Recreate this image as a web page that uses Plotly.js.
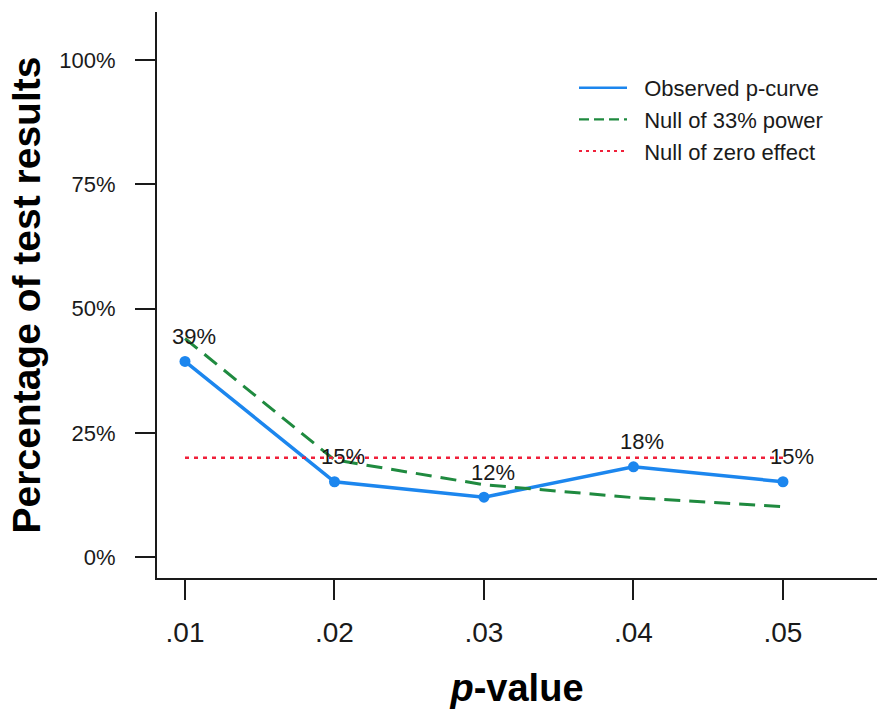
<!DOCTYPE html>
<html>
<head>
<meta charset="utf-8">
<script src="https://cdn.plot.ly/plotly-3.0.1.min.js"></script>
<style>html,body{margin:0;padding:0;background:#fff;}#chart{width:877px;height:715px;}</style>
</head>
<body>
<div id="chart"></div>
<script>
// ---- data ----
const pValues = [0.01, 0.02, 0.03, 0.04, 0.05];
const pTickLabels = ['.01', '.02', '.03', '.04', '.05'];
const observed = [39.4, 15.2, 12.1, 18.2, 15.2];
const observedLabels = ['39%', '15%', '12%', '18%', '15%'];
const nullPower33 = [44.0, 19.6, 14.6, 12.0, 10.2];
const nullZero = [20, 20, 20, 20, 20];
const yTicks = [0, 25, 50, 75, 100];
const yTickLabels = ['0%', '25%', '50%', '75%', '100%'];
const seriesNames = ['Observed p-curve', 'Null of 33% power', 'Null of zero effect'];

const FONT = 'Liberation Sans, Arial, Helvetica, sans-serif';
const INK = '#1a1a1a';
const BLUE = '#1c86ee', GREEN = '#1f8a3f', RED = '#f0203a';
const PAD = '\u00a0\u00a0';

const traces = [
  {
    x: pValues, y: observed, name: seriesNames[0], type: 'scatter', mode: 'lines+markers',
    line: {color: BLUE, width: 3.5}, marker: {color: BLUE, size: 11},
    showlegend: false, cliponaxis: false
  },
  {
    x: pValues, y: nullPower33, name: seriesNames[1], type: 'scatter', mode: 'lines',
    line: {color: GREEN, width: 3, dash: '16px,9px'},
    showlegend: false, cliponaxis: false
  },
  {
    x: pValues, y: nullZero, name: seriesNames[2], type: 'scatter', mode: 'lines',
    line: {color: RED, width: 2.5, dash: '4px,5px'},
    showlegend: false, cliponaxis: false
  },
  // legend keys (thin lines as in the reference legend)
  {x: [null], y: [null], name: PAD + seriesNames[0], type: 'scatter', mode: 'lines',
   line: {color: BLUE, width: 2.5}},
  {x: [null], y: [null], name: PAD + seriesNames[1], type: 'scatter', mode: 'lines',
   line: {color: GREEN, width: 2.2, dash: '10px,5px'}},
  {x: [null], y: [null], name: PAD + seriesNames[2], type: 'scatter', mode: 'lines',
   line: {color: RED, width: 2, dash: '3px,4px'}}
];

const annotations = pValues.map((p, i) => ({
  x: p, y: observed[i], xref: 'x', yref: 'y', text: observedLabels[i],
  showarrow: false, xshift: 9, yshift: 25,
  font: {family: FONT, size: 22, color: INK}
}));

const layout = {
  width: 877, height: 715,
  margin: {l: 157, r: 0, t: 12, b: 137, pad: 0},
  paper_bgcolor: '#fff', plot_bgcolor: '#fff',
  showlegend: true,
  legend: {
    x: (574 - 157) / 720, y: (578 - 67) / 566, xanchor: 'left', yanchor: 'top',
    font: {family: FONT, size: 22, color: INK},
    bgcolor: 'rgba(0,0,0,0)', itemwidth: 48
  },
  xaxis: {
    range: [0.008127, 0.05629], tickvals: pValues, ticktext: pTickLabels,
    showgrid: false, zeroline: false, showline: true, linecolor: INK, linewidth: 2,
    ticks: 'outside', ticklen: 20, tickwidth: 2, tickcolor: INK,
    tickfont: {family: FONT, size: 28, color: INK}, ticklabelstandoff: 8,
    title: {text: '<b><i>p</i>-value</b>', font: {family: FONT, size: 38, color: '#000'}, standoff: 28},
    fixedrange: true
  },
  yaxis: {
    range: [-4.16, 109.67], tickvals: yTicks, ticktext: yTickLabels,
    showgrid: false, zeroline: false, showline: true, linecolor: INK, linewidth: 2,
    ticks: 'outside', ticklen: 20, tickwidth: 2, tickcolor: INK,
    tickfont: {family: FONT, size: 22, color: INK}, ticklabelstandoff: 15,
    title: {text: '<b>Percentage of test results</b>', font: {family: FONT, size: 39, color: '#000'}, standoff: 7},
    fixedrange: true
  },
  annotations: annotations
};

Plotly.newPlot('chart', traces, layout, {displayModeBar: false, staticPlot: true});
</script>
</body>
</html>
